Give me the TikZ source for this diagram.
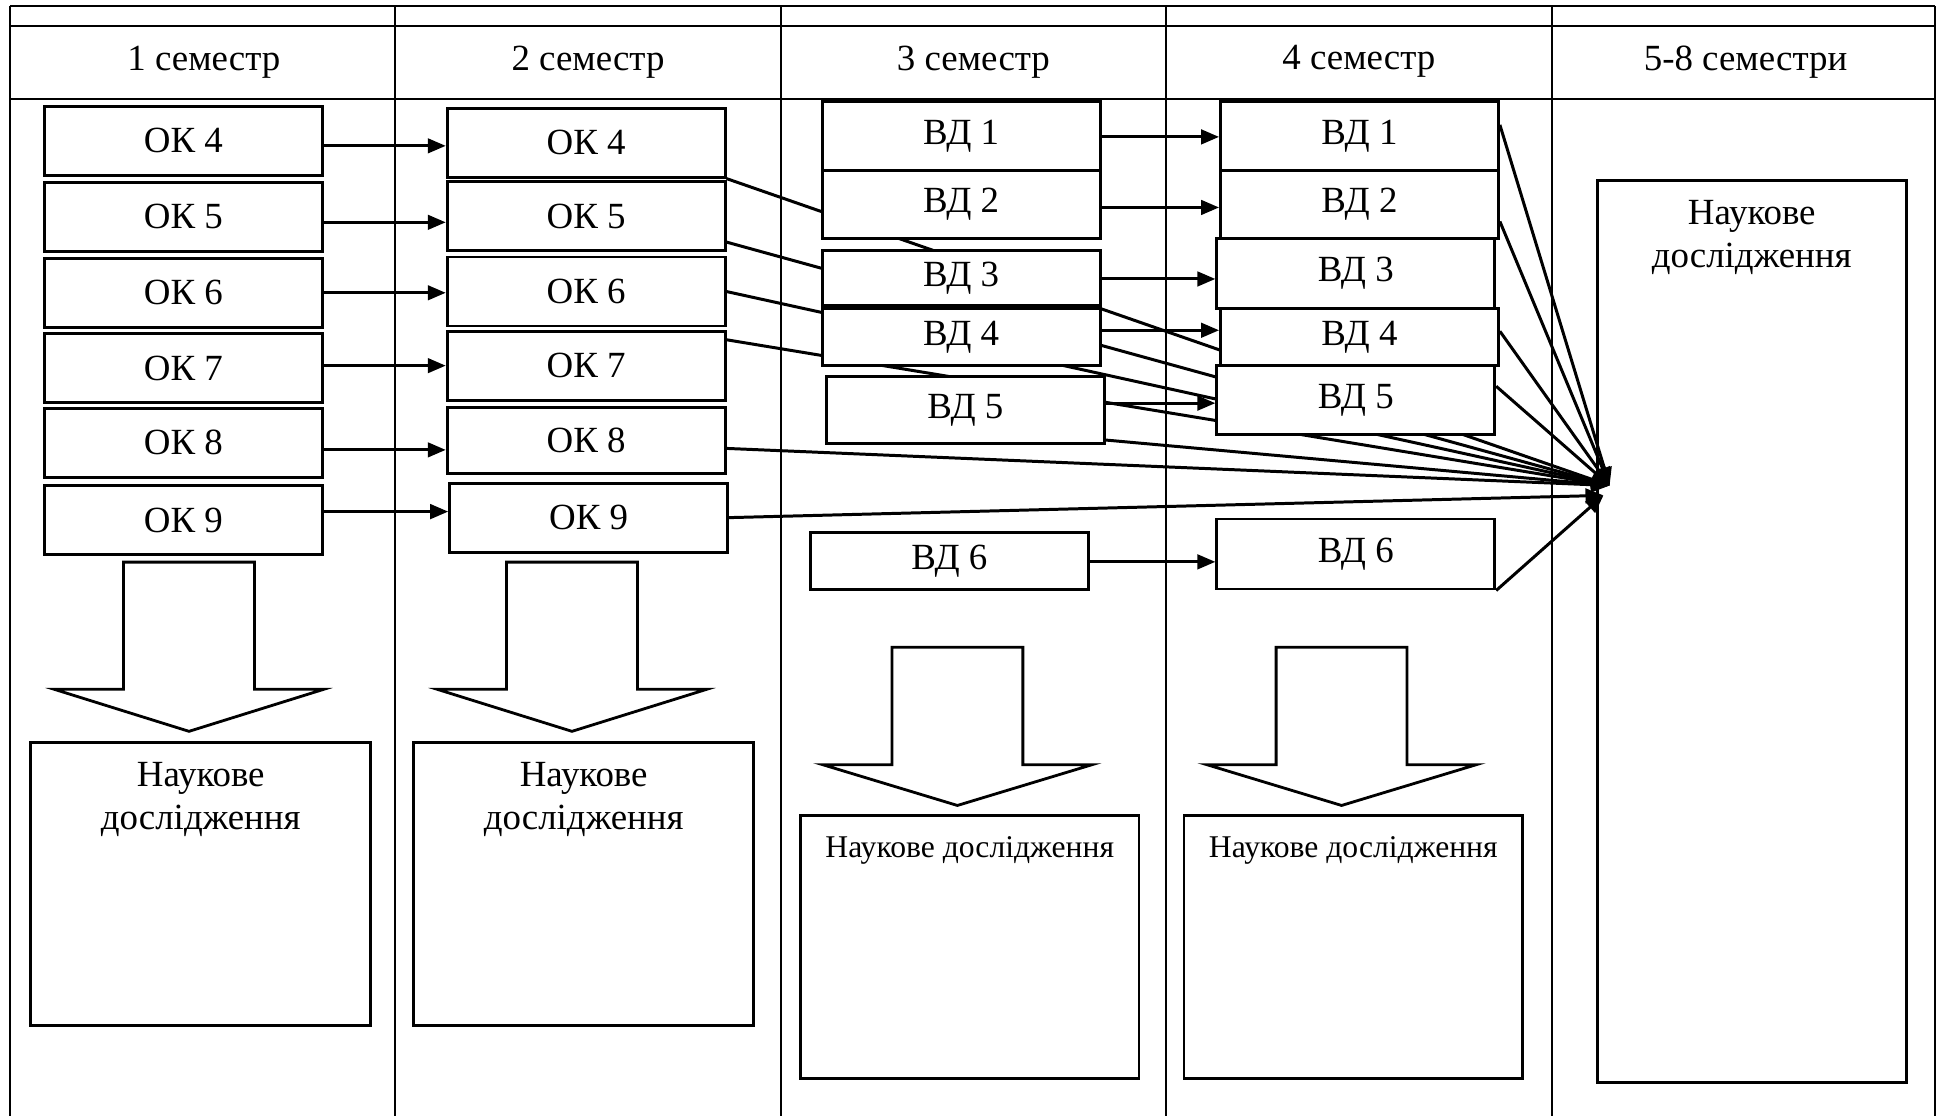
\documentclass[tikz,border=0pt]{standalone}
\usepackage{fontspec}
\setmainfont{Liberation Serif}
\usepackage{tikz}
\usetikzlibrary{positioning}
\usetikzlibrary{arrows.meta}
\pgfdeclarelayer{back}
\pgfsetlayers{back,main}
\newcommand{\semfont}{\fontsize{10.5pt}{12.25pt}\selectfont}
\newcommand{\ndfont}{\fontsize{9pt}{11pt}\selectfont}

\begin{document}
\begin{tikzpicture}[x=0.12353mm, y=-0.12353mm, >={Triangle[length=1.8mm,width=1.45mm]},
  grid line/.style={line width=0.6pt},
  ok box/.style={draw, fill=white, line width=0.8pt, inner sep=0pt, minimum width=27.8mm, minimum height=6.9mm, font=\semfont},
  nd box/.style={draw, line width=0.8pt, inner sep=0pt},
  nd text/.style={anchor=north, align=center, font=\semfont, yshift=-0.9mm},
  big arrow/.style={draw, line width=0.8pt},
  link/.style={->, line width=0.85pt}]

\useasboundingbox (0,0) rectangle (1568,903);

% table
\foreach \x in {8,320,632,944,1256,1566}
  \draw[grid line] (\x,5) -- (\x,903);
\foreach \y in {5,21,80}
  \draw[grid line] (8,\y) -- (1566,\y);

\foreach \x/\t [count=\i] in {165/1 семестр, 476/2 семестр, 788/3 семестр, 1100/4 семестр, 1413/5-8 семестри}
  \node[font=\semfont] (sem\i) at (\x,50) {\t};

% 1 and 2 semester
\foreach \n/\y in {4/114, 5/175.5, 6/237, 7/298, 8/358.5, 9/421}
  \node[ok box] (ok\n-1) at (148.5,\y) {ОК \n};
\foreach \n/\y in {4/115.5, 5/175, 6/236, 7/296}
  \node[ok box] (ok\n-2) at (474.5,\y) {ОК \n};
\node[ok box, minimum height=6.55mm] (ok8-2) at (474.5,356.5) {ОК 8};
\node[ok box] (ok9-2) at (476.5,419) {ОК 9};

% 3 and 4 semester
\node[ok box] (vd1-1) at (778,110) {ВД 1};
\node[ok box, minimum height=6.8mm] (vd2-1) at (778,165.5) {ВД 2};
\node[ok box, minimum height=5.45mm] (vd3-1) at (778,225) {ВД 3};
\node[ok box, minimum height=5.7mm] (vd4-1) at (778,273) {ВД 4};
\node[ok box, minimum height=6.7mm] (vd5-1) at (781.5,332) {ВД 5};
\node[ok box, minimum height=5.7mm] (vd6-1) at (768.5,454) {ВД 6};

\node[ok box] (vd1-2) at (1100.5,110) {ВД 1};
\node[ok box, minimum height=6.8mm] (vd2-2) at (1100.5,165.5) {ВД 2};
\node[ok box, minimum height=7mm] (vd3-2) at (1097.5,221.5) {ВД 3};
\node[ok box, minimum height=5.7mm] (vd4-2) at (1100.5,273) {ВД 4};
\node[ok box] (vd5-2) at (1097.5,324) {ВД 5};
\node[ok box, minimum height=7mm] (vd6-2) at (1097.5,448.5) {ВД 6};

% research boxes
\node[nd box, minimum width=34mm, minimum height=28.3mm, label={[nd text]north:{Наукове\\дослідження}}] (nd1) at (162.5,715.5) {};
\node[nd box, minimum width=34mm, minimum height=28.3mm, label={[nd text]north:{Наукове\\дослідження}}] (nd2) at (472.5,715.5) {};
\node[nd box, minimum width=33.85mm, minimum height=26.3mm, label={[nd text, font=\ndfont, yshift=-0.15mm]north:{Наукове дослідження}}] (nd3) at (785,766.5) {};
\node[nd box, minimum width=33.85mm, minimum height=26.3mm, label={[nd text, font=\ndfont, yshift=-0.15mm]north:{Наукове дослідження}}] (nd4) at (1095.5,766.5) {};
\node[nd box, minimum width=30.9mm, minimum height=90.2mm, label={[nd text]north:{Наукове\\дослідження}}] (nd5) at (1418,511) {};

% block arrows
\foreach \cx/\ty/\hy/\py in {153/455/558/592, 463/455/558/592, 775/524/619/652, 1086/524/619/652}
  \draw[big arrow] (\cx-53,\ty) -- (\cx+53,\ty) -- (\cx+53,\hy) -- (\cx+109,\hy)
    -- (\cx,\py) -- (\cx-109,\hy) -- (\cx-53,\hy) -- cycle;

\coordinate (hub) at (1303,393);
\coordinate (hub-low) at (1298,401);

\begin{pgfonlayer}{back}
\foreach \n/\s in {4/-0.5, 5/-0.55, 6/0, 7/0.25, 8/-0.7, 9/0.85}
  \draw[link] ([yshift=\s mm]ok\n-1.east) -- ([yshift=\s mm]ok\n-1.east -| ok\n-2.west);
\foreach \n/\s in {1/-0.1, 2/-0.3, 3/-0.1, 4/0.7, 5/0.7, 6/-0.1}
  \draw[link] ([yshift=\s mm]vd\n-1.east) -- ([yshift=\s mm]vd\n-1.east -| vd\n-2.west);

\path[link]
  (ok4-2.south east) edge (hub)
  ([yshift=1mm]ok5-2.south east) edge (hub)
  (ok6-2.east) edge (hub)
  ([yshift=-1mm]ok7-2.north east) edge (hub)
  ([yshift=-0.8mm]ok8-2.east) edge (hub)
  (ok9-2.east) edge (hub-low)
  ([yshift=0.5mm]vd5-1.south east) edge (hub)
  ([yshift=1.1mm]vd1-2.east) edge (hub)
  ([yshift=-1.7mm]vd2-2.east) edge (hub)
  ([yshift=0.6mm]vd4-2.east) edge (hub)
  ([yshift=1.4mm]vd5-2.east) edge (hub)
  (vd6-2.south east) edge (hub-low);
\end{pgfonlayer}

\end{tikzpicture}
\end{document}
